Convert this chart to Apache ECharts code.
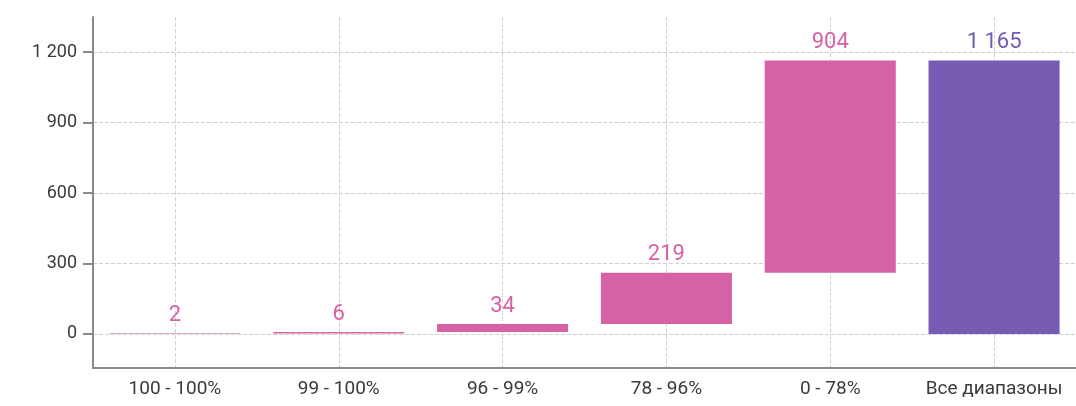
<!DOCTYPE html>
<html><head><meta charset="utf-8">
<script src="https://cdn.jsdelivr.net/npm/echarts@6/dist/echarts.min.js"></script>
<style>html,body{margin:0;padding:0;background:#fff}#c{width:1076px;height:406px}</style>
</head><body><div id="c"></div>
<script>
const categories = ["100 - 100%", "99 - 100%", "96 - 99%", "78 - 96%", "0 - 78%", "Все диапазоны"];
const deltas = [2, 6, 34, 219, 904];
const total = 1165;
const yTicks = [0, 300, 600, 900, 1200];

const values = deltas.concat([total]);
const bases = [];
let acc = 0;
deltas.forEach(d => { bases.push(acc); acc += d; });
bases.push(0);

const pink = '#D662A6', purple = '#755BB1';
const fmt = v => String(v).replace(/\B(?=(\d{3})+(?!\d))/g, ' ');

const chart = echarts.init(document.getElementById('c'));
chart.setOption({
  animation: false,
  textStyle: { fontFamily: 'Roboto' },
  grid: { left: 93, right: 0, top: 17, bottom: 38, containLabel: false },
  xAxis: {
    type: 'category', data: categories,
    axisLine: { onZero: false, lineStyle: { color: '#8a8a8a', width: 2 } },
    axisTick: { alignWithLabel: true, interval: 0, length: 8, lineStyle: { color: '#8a8a8a', width: 2 } },
    axisLabel: { color: '#3a3a3a', fontSize: 19, margin: 12, interval: 0, hideOverlap: false },
    splitLine: { show: true, interval: 0, alignWithLabel: true, lineStyle: { type: 'dashed', color: '#d0d0d0' } }
  },
  yAxis: {
    type: 'value', min: -145, max: 1350,
    axisLine: { show: true, lineStyle: { color: '#8a8a8a', width: 2 } },
    axisTick: { show: true, length: 10, customValues: yTicks, lineStyle: { color: '#8a8a8a', width: 2 } },
    axisLabel: { color: '#3a3a3a', fontSize: 18, margin: 16, customValues: yTicks, formatter: v => fmt(v) },
    splitLine: { show: true, lineStyle: { type: 'dashed', color: '#d0d0d0' } }
  },
  series: [
    { type: 'bar', stack: 'w', data: bases, barWidth: '80%', itemStyle: { color: 'transparent' }, silent: true },
    { type: 'bar', stack: 'w', data: values.map((v, i) => ({ value: v, itemStyle: { color: i === values.length - 1 ? purple : pink }, label: { color: i === values.length - 1 ? purple : pink } })),
      barWidth: '80%',
      label: { show: true, position: 'top', fontSize: 22, distance: 7, formatter: p => fmt(p.value) } }
  ]
});
</script></body></html>
